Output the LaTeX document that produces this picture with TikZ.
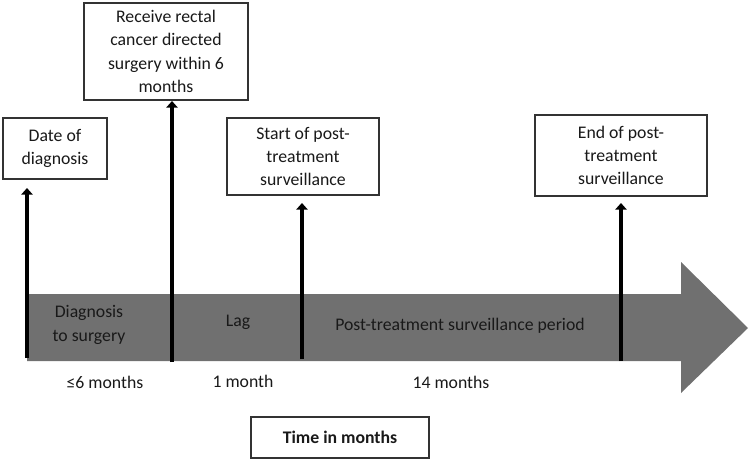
\documentclass[tikz,border=0pt]{standalone}
\usepackage{fontspec}
\setmainfont{Carlito}
\usetikzlibrary{arrows.meta}
\definecolor{bargray}{RGB}{112,112,112}
\tikzset{
  lbl/.style={font=\fontsize{13.3}{17.4}\selectfont, align=center, inner sep=0pt, text=black!90},
  box/.style={draw=black!80, line width=0.8pt, fill=white, lbl},
  marker/.style={line width=3.2pt, -{Triangle[width=8.5pt,length=5pt]}},
}
\begin{document}
\begin{tikzpicture}[x=0.75pt,y=-0.75pt]
\useasboundingbox (0,0) rectangle (750,461);
% big arrow
\fill[bargray] (27,294) -- (681,294) -- (681,262) -- (748,328) -- (681,393) -- (681,361) -- (27,361) -- cycle;
% boxes
\node[box, minimum width=104*0.75pt, minimum height=61*0.75pt] (date) at (55,148.5) {Date of\\diagnosis};
\node[box, minimum width=164*0.75pt, minimum height=97*0.75pt] (surg) at (166,51.5) {Receive rectal\\cancer directed\\surgery within 6\\months};
\node[box, minimum width=152*0.75pt, minimum height=77*0.75pt] (start) at (303,156.5) {Start of post-\\treatment\\surveillance};
\node[box, line width=1.6pt, minimum width=172*0.75pt, minimum height=81*0.75pt] (end) at (621,155.5) {End of post-\\treatment\\surveillance};
\node[box, minimum width=178*0.75pt, minimum height=41*0.75pt, font=\fontsize{13.3}{17.4}\selectfont\bfseries] (time) at (340,437.5) {Time in months};
% marker coordinates
\coordinate (b1) at (27,358); \coordinate (t1) at (27,188);
\coordinate (b2) at (172,362); \coordinate (t2) at (172,101);
\coordinate (b3) at (302,359); \coordinate (t3) at (302,203);
\coordinate (b4) at (621,361); \coordinate (t4) at (621,203);
\draw[marker] (b1) -- (t1);
\draw[marker] (b2) -- (t2);
\draw[marker] (b3) -- (t3);
\draw[marker] (b4) -- (t4);
% labels in bar
\node[lbl] (p1) at (89,325) {Diagnosis\\to surgery};
\node[lbl] (p2) at (238,322) {Lag};
\node[lbl] (p3) at (460,326) {Post-treatment surveillance period};
% durations
\node[lbl] (d1) at (105,382) {≤6 months};
\node[lbl] (d2) at (243,381) {1 month};
\node[lbl] (d3) at (451,382) {14 months};
\end{tikzpicture}
\end{document}
